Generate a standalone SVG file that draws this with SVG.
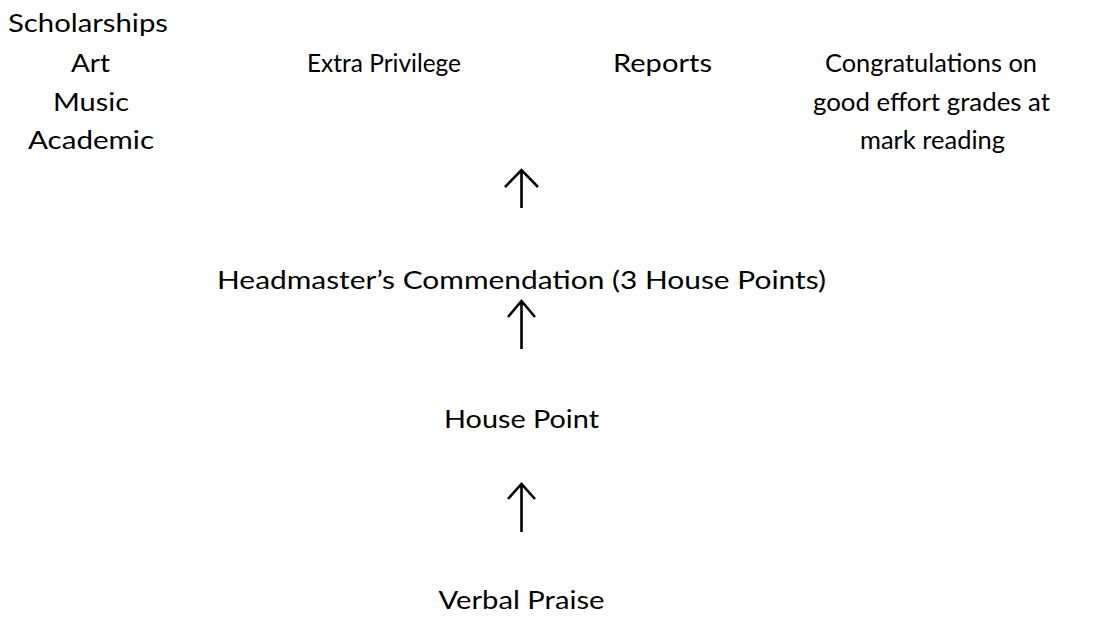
<svg xmlns="http://www.w3.org/2000/svg" width="1099" height="621" viewBox="0 0 1099 621">
<style>
text{font-family:Lato,"Open Sans","Liberation Sans",sans-serif;font-size:25px;fill:#000;text-anchor:middle}
.arr{fill:none;stroke:#000;stroke-width:2.6;stroke-linecap:butt;stroke-linejoin:miter}
</style>
<rect width="1099" height="621" fill="#fff"/>
<g id="scholarships">
<text x="88" y="32" textLength="160" lengthAdjust="spacingAndGlyphs">Scholarships</text>
<text x="90.5" y="72" textLength="39" lengthAdjust="spacingAndGlyphs">Art</text>
<text x="91" y="111" textLength="76" lengthAdjust="spacingAndGlyphs">Music</text>
<text x="91" y="149" textLength="126" lengthAdjust="spacingAndGlyphs">Academic</text>
</g>
<g id="extra-privilege">
<text x="384" y="72" textLength="154" lengthAdjust="spacingAndGlyphs">Extra Privilege</text>
</g>
<g id="reports">
<text x="662.5" y="72" textLength="99" lengthAdjust="spacingAndGlyphs">Reports</text>
</g>
<g id="congratulations">
<text x="931" y="72" textLength="212" lengthAdjust="spacingAndGlyphs">Congratulations on</text>
<text x="931.5" y="111" textLength="237" lengthAdjust="spacingAndGlyphs">good effort grades at</text>
<text x="932.5" y="149" textLength="145" lengthAdjust="spacingAndGlyphs">mark reading</text>
</g>
<g id="commendation">
<text x="521.5" y="289" textLength="609" lengthAdjust="spacingAndGlyphs">Headmaster’s Commendation (3 House Points)</text>
</g>
<g id="house-point">
<text x="521.5" y="428" textLength="155" lengthAdjust="spacingAndGlyphs">House Point</text>
</g>
<g id="verbal-praise">
<text x="521.5" y="609" textLength="166" lengthAdjust="spacingAndGlyphs">Verbal Praise</text>
</g>
<g id="connectors">
<path class="arr" d="M521.5 208V170M505 187L521.5 170L538 187"/>
<path class="arr" d="M521.5 349V301M508 317L521.5 301L535 317"/>
<path class="arr" d="M521.5 532V484M508 499L521.5 484L535 499"/>
</g>
</svg>
